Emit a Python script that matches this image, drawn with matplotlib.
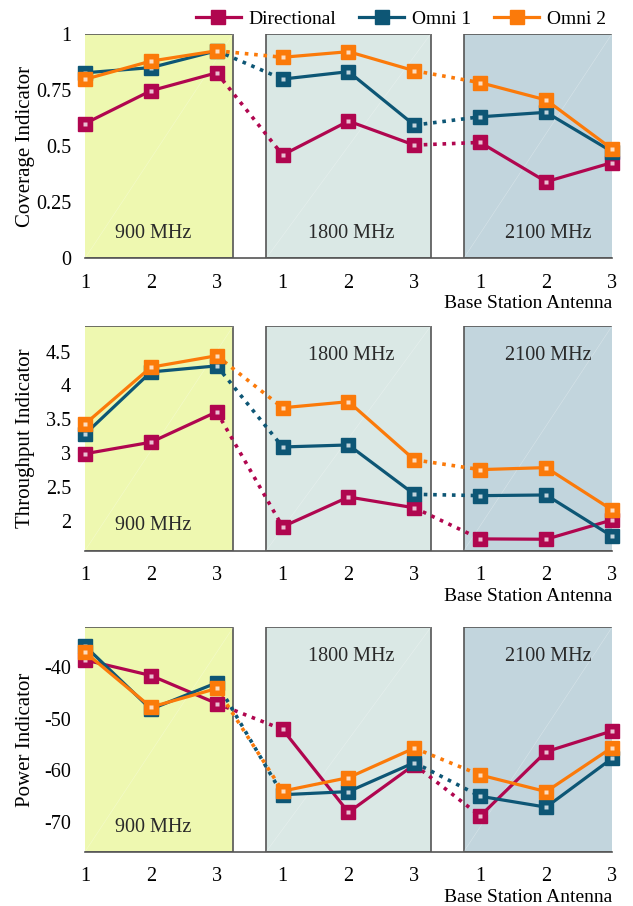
import matplotlib
matplotlib.use("Agg")
import matplotlib.pyplot as plt
from matplotlib.patches import Rectangle
from matplotlib.lines import Line2D
import numpy as np

plt.rcParams['font.family'] = ['Liberation Serif', 'DejaVu Serif']
plt.rcParams['mathtext.fontset'] = 'stix'

antenna_labels = ['1', '2', '3', '1', '2', '3', '1', '2', '3']
bands = ['900 MHz', '1800 MHz', '2100 MHz']
series_names = ['Directional', 'Omni 1', 'Omni 2']

coverage_directional = [0.60, 0.746, 0.826, 0.46, 0.611, 0.504, 0.516, 0.341, 0.426]
coverage_omni1 = [0.826, 0.849, 0.924, 0.798, 0.831, 0.593, 0.630, 0.650, 0.475]
coverage_omni2 = [0.797, 0.878, 0.924, 0.895, 0.920, 0.835, 0.782, 0.705, 0.487]

throughput_directional = [2.99, 3.16, 3.61, 1.91, 2.35, 2.19, 1.73, 1.725, 2.01]
throughput_omni1 = [3.28, 4.20, 4.29, 3.09, 3.12, 2.39, 2.37, 2.38, 1.77]
throughput_omni2 = [3.43, 4.27, 4.44, 3.67, 3.76, 2.90, 2.755, 2.785, 2.16]

power_directional = [-38.7, -41.7, -47.1, -52.1, -68.1, -58.9, -68.8, -56.4, -52.4]
power_omni1 = [-36.0, -48.2, -43.1, -64.7, -64.1, -58.5, -65.0, -67.1, -57.7]
power_omni2 = [-37.2, -47.8, -44.2, -64.0, -61.4, -55.7, -60.9, -64.1, -55.6]

colors = ['#B0064F', '#0D5675', '#FB7A0A']
band_colors = ['#EEF8B0', '#DAE8E5', '#C2D5DD']

panels = [
    dict(data=[coverage_directional, coverage_omni1, coverage_omni2],
         ylabel='Coverage Indicator', ylim=(0, 1),
         yticks=[0, 0.25, 0.5, 0.75, 1], yticklabels=['0', '0.25', '0.5', '0.75', '1'],
         label_top=[False, False, False],
         rect=[0.1343, 0.7149, 0.8325, 0.2479]),
    dict(data=[throughput_directional, throughput_omni1, throughput_omni2],
         ylabel='Throughput Indicator', ylim=(1.556, 4.88),
         yticks=[2, 2.5, 3, 3.5, 4, 4.5], yticklabels=['2', '2.5', '3', '3.5', '4', '4.5'],
         label_top=[False, True, True],
         rect=[0.1343, 0.3922, 0.8325, 0.2480]),
    dict(data=[power_directional, power_omni1, power_omni2],
         ylabel='Power Indicator', ylim=(-75.7, -32.4),
         yticks=[-70, -60, -50, -40], yticklabels=['-70', '-60', '-50', '-40'],
         label_top=[False, True, True],
         rect=[0.1343, 0.0599, 0.8325, 0.2477]),
]

fig = plt.figure(figsize=(6.33, 9.06), dpi=100)
x = np.arange(9)
groups = [(0, 3), (3, 6), (6, 9)]
band_spans = [(-0.25, 2.25), (2.75, 5.25), (5.75, 8.25)]

for p in panels:
    ax = fig.add_axes(p['rect'])
    ax.set_xlim(0, 8)
    ax.set_ylim(*p['ylim'])
    y0, y1 = p['ylim']
    for bi, (a, b) in enumerate(band_spans):
        ax.add_patch(Rectangle((a, y0), b - a, y1 - y0, facecolor=band_colors[bi],
                               edgecolor='#555555', linewidth=1.2, zorder=0.5))
        ax.plot([max(a, 0), min(b, 8)], [y0, y1], color='white', lw=0.4, alpha=0.35, zorder=0.6)
        cx = (a + b) / 2 + 0.04
        if p['label_top'][bi]:
            ty = y1 - 0.13 * (y1 - y0)
        else:
            ty = y0 + 0.11 * (y1 - y0)
        ax.text(cx, ty, bands[bi], ha='center', va='center', fontsize=14.5,
                color='#2a2a2a', zorder=1)
    for si, vals in enumerate(p['data']):
        c = colors[si]
        vals = np.asarray(vals, dtype=float)
        for (a, b) in groups:
            ax.plot(x[a:b], vals[a:b], color=c, lw=2.3, marker='s', ms=9.5,
                    mfc=c, mec=c, clip_on=False, zorder=3 + si * 0.1)
            ax.plot(x[a:b], vals[a:b], linestyle='none', marker='s', ms=2.2,
                    mfc='white', mec='none', alpha=0.75, clip_on=False, zorder=3.05 + si * 0.1)
        for a in (2, 5):
            ax.plot(x[a:a + 2], vals[a:a + 2], color=c, lw=2.6,
                    linestyle=(0, (1, 1.6)), zorder=2.5 + si * 0.1, clip_on=False)
    ax.set_xticks(x)
    ax.set_xticklabels(antenna_labels, fontsize=14.5)
    ax.set_yticks(p['yticks'])
    ax.set_yticklabels(p['yticklabels'], fontsize=14.5)
    ax.tick_params(axis='x', length=0, pad=11)
    ax.tick_params(axis='y', length=0, pad=10)
    for s in ['top', 'right', 'left']:
        ax.spines[s].set_visible(False)
    ax.spines['bottom'].set_color('#555555')
    ax.spines['bottom'].set_linewidth(1.2)
    ax.set_ylabel(p['ylabel'], fontsize=15)
    ax.yaxis.set_label_coords(-0.095, 0.5)
    ax.text(1.0, -0.165, 'Base Station Antenna', transform=ax.transAxes,
            ha='right', va='top', fontsize=14)

handles = [Line2D([0], [0], color=c, lw=2.3, marker='s', ms=9.5, mfc=c, mec=c) for c in colors]
fig.legend(handles, series_names, loc='upper right', bbox_to_anchor=(0.985, 1.008),
           ncol=3, frameon=False, fontsize=14, handlelength=2.3, columnspacing=1.2,
           handletextpad=0.4)

fig.savefig('out.png', dpi=100)
